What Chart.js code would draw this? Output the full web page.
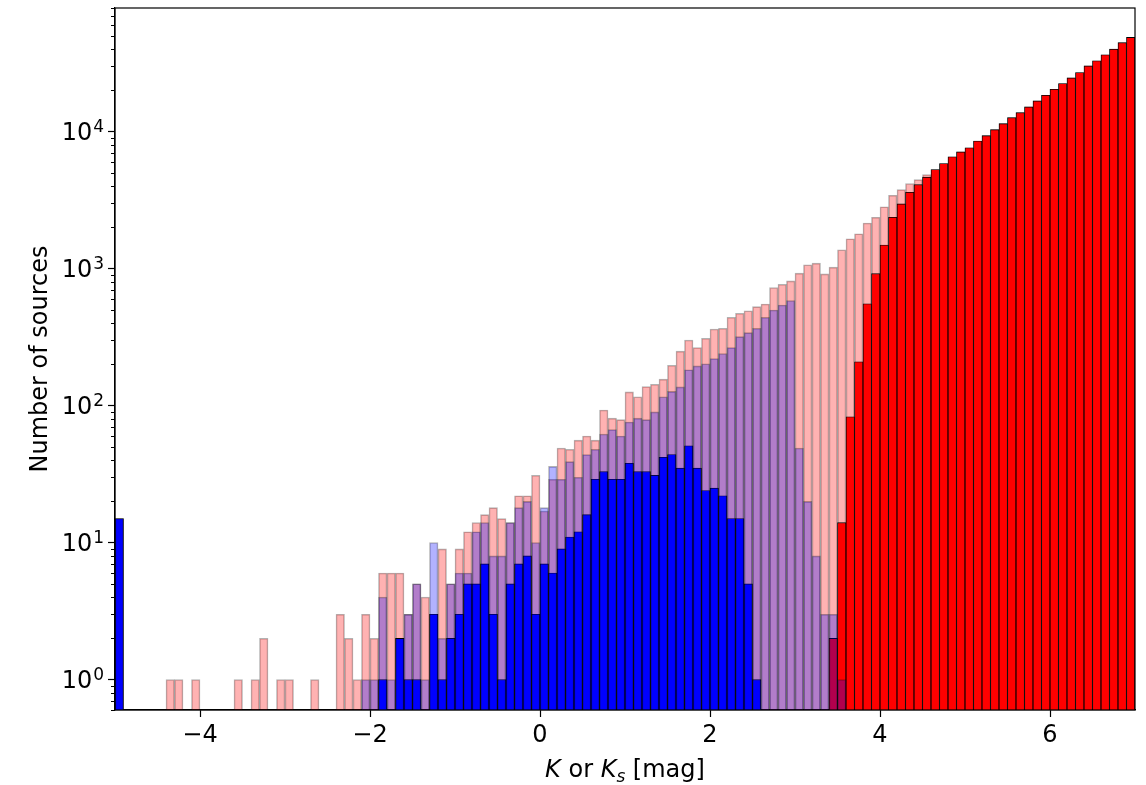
<!DOCTYPE html>
<html>
<head>
<meta charset="utf-8">
<script src="https://cdn.jsdelivr.net/npm/chart.js@4.4.1/dist/chart.umd.min.js"></script>
<style>
  body { margin: 0; background: #fff; }
  #wrap { width: 1146px; height: 785px; position: relative; }
</style>
</head>
<body>
<div id="wrap"><canvas id="chart01"></canvas></div>
<script>
// histogram bins: 0.1 mag wide, from -5 to 7 (120 bins)
const binStart = -5;
const binWidth = 0.1;
const binCount = 120;

const xTicks = [-4, -2, 0, 2, 4, 6];
const yTicks = [1, 10, 100, 1000, 10000];

// light red (all sources)
const allCounts = [
    0, 0, 0, 0, 0, 0, 1, 1, 0, 1,
    0, 0, 0, 0, 1, 0, 1, 2, 0, 1,
    1, 0, 0, 1, 0, 0, 3, 2, 1, 3,
    2, 6, 6, 6, 3, 5, 4, 3, 9, 5,
    9, 12, 14, 16, 18, 15, 14, 22, 22, 31,
    17, 29, 49, 48, 56, 60, 56, 93, 81, 79,
    126, 116, 138, 143, 156, 197, 250, 301, 266, 310,
    362, 367, 441, 472, 492, 528, 552, 728, 769, 814,
    927, 1067, 1097, 916, 1026, 1373, 1653, 1800, 2154, 2372,
    2830, 3436, 3782, 4180, 4478, 4870, 5300, 5860, 6560, 7130,
    7640, 8550, 9350, 10350, 11450, 12670, 13780, 15170, 16790, 18460,
    20420, 22470, 24740, 27040, 30270, 32940, 36470, 40090, 44700, 48840
];

// light blue (translucent, drawn on top)
const lightBlueCounts = [
    15, 0, 0, 0, 0, 0, 0, 0, 0, 0,
    0, 0, 0, 0, 0, 0, 0, 0, 0, 0,
    0, 0, 0, 0, 0, 0, 0, 0, 0, 1,
    1, 4, 1, 2, 3, 5, 1, 10, 2, 5,
    6, 6, 12, 14, 8, 8, 14, 18, 20, 10,
    18, 36, 29, 39, 30, 44, 48, 62, 67, 60,
    76, 81, 79, 90, 116, 127, 137, 183, 195, 202,
    221, 240, 266, 319, 341, 367, 441, 499, 543, 585,
    49, 20, 8, 3, 3, 1, 0, 0, 0, 0,
    0, 0, 0, 0, 0, 0, 0, 0, 0, 0,
    0, 0, 0, 0, 0, 0, 0, 0, 0, 0,
    0, 0, 0, 0, 0, 0, 0, 0, 0, 0
];

// solid blue
const blueCounts = [
    15, 0, 0, 0, 0, 0, 0, 0, 0, 0,
    0, 0, 0, 0, 0, 0, 0, 0, 0, 0,
    0, 0, 0, 0, 0, 0, 0, 0, 0, 0,
    0, 1, 0, 2, 1, 1, 0, 3, 1, 2,
    3, 5, 5, 7, 3, 1, 5, 7, 8, 3,
    7, 6, 9, 11, 12, 16, 29, 33, 29, 29,
    38, 33, 33, 31, 42, 44, 35, 51, 35, 24,
    25, 22, 15, 15, 5, 1, 0, 0, 0, 0,
    0, 0, 0, 0, 0, 0, 0, 0, 0, 0,
    0, 0, 0, 0, 0, 0, 0, 0, 0, 0,
    0, 0, 0, 0, 0, 0, 0, 0, 0, 0,
    0, 0, 0, 0, 0, 0, 0, 0, 0, 0
];

// solid red
const redCounts = [
    0, 0, 0, 0, 0, 0, 0, 0, 0, 0,
    0, 0, 0, 0, 0, 0, 0, 0, 0, 0,
    0, 0, 0, 0, 0, 0, 0, 0, 0, 0,
    0, 0, 0, 0, 0, 0, 0, 0, 0, 0,
    0, 0, 0, 0, 0, 0, 0, 0, 0, 0,
    0, 0, 0, 0, 0, 0, 0, 0, 0, 0,
    0, 0, 0, 0, 0, 0, 0, 0, 0, 0,
    0, 0, 0, 0, 0, 0, 0, 0, 0, 0,
    0, 0, 0, 0, 2, 14, 83, 209, 555, 920,
    1490, 2372, 2970, 3615, 4110, 4660, 5300, 5860, 6560, 7130,
    7640, 8550, 9350, 10350, 11450, 12670, 13780, 15170, 16790, 18460,
    20420, 22470, 24740, 27040, 30270, 32940, 36470, 40090, 44700, 48840
];

const binCenters = Array.from({ length: binCount }, (_, i) => Math.round((binStart + binWidth * (i + 0.5)) * 100) / 100);

function toPoints(counts) {
    return binCenters.map((x, i) => ({ x: x, y: counts[i] > 0 ? counts[i] : null }));
}

const tickFont = { family: 'DejaVu Sans', size: 24 };

const framePlugin = {
    id: 'frame',
    afterDraw(chart) {
        const { ctx, chartArea: a, scales } = chart;
        const y = scales.y;
        ctx.save();
        ctx.strokeStyle = '#000';
        ctx.lineWidth = 1.2;
        ctx.strokeRect(a.left, a.top, a.right - a.left, a.bottom - a.top);

        // minor ticks of the log axis
        ctx.lineWidth = 1;
        for (let p = -1; p <= 4; p++) {
            for (let m = 2; m <= 9; m++) {
                const v = m * Math.pow(10, p);
                if (v < y.min || v > y.max) continue;
                const py = Math.round(y.getPixelForValue(v)) + 0.5;
                ctx.beginPath();
                ctx.moveTo(a.left - 4, py);
                ctx.lineTo(a.left, py);
                ctx.stroke();
            }
        }

        // y tick labels as 10 with raised exponent
        ctx.fillStyle = '#000';
        ctx.textAlign = 'left';
        ctx.textBaseline = 'alphabetic';
        yTicks.forEach(v => {
            const py = y.getPixelForValue(v);
            const exp = String(Math.round(Math.log10(v)));
            ctx.font = '17px "DejaVu Sans"';
            const we = ctx.measureText(exp).width;
            ctx.font = '24px "DejaVu Sans"';
            const wb = ctx.measureText('10').width;
            const x0 = a.left - 12 - we - wb;
            ctx.fillText('10', x0, py + 8.6);
            ctx.font = '17px "DejaVu Sans"';
            ctx.fillText(exp, x0 + wb + 1, py + 0.5);
        });

        // y title
        ctx.font = '24px "DejaVu Sans"';
        ctx.textAlign = 'center';
        ctx.textBaseline = 'middle';
        ctx.save();
        ctx.translate(41, (a.top + a.bottom) / 2);
        ctx.rotate(-Math.PI / 2);
        ctx.fillText('Number of sources', 0, 0);
        ctx.restore();

        // x title: K or K_s [mag]
        const parts = [
            { t: 'K', font: 'italic 24px "DejaVu Sans"', dy: 0 },
            { t: ' or ', font: '24px "DejaVu Sans"', dy: 0 },
            { t: 'K', font: 'italic 24px "DejaVu Sans"', dy: 0 },
            { t: 's', font: 'italic 17px "DejaVu Sans"', dy: 5 },
            { t: ' [mag]', font: '24px "DejaVu Sans"', dy: 0 }
        ];
        ctx.textAlign = 'left';
        ctx.textBaseline = 'alphabetic';
        let total = 0;
        parts.forEach(p => { ctx.font = p.font; p.w = ctx.measureText(p.t).width; total += p.w; });
        let px = (a.left + a.right) / 2 - total / 2;
        parts.forEach(p => {
            ctx.font = p.font;
            ctx.fillText(p.t, px, 777 + p.dy);
            px += p.w;
        });
        ctx.restore();
    }
};

const ctx01 = document.getElementById('chart01');
new Chart(ctx01, {
    type: 'bar',
    data: {
        datasets: [
            {
                label: 'light blue',
                data: toPoints(lightBlueCounts),
                backgroundColor: 'rgba(0,0,255,0.3)',
                borderColor: 'rgba(0,0,0,0.3)',
                borderWidth: 0.9,
                order: 0
            },
            {
                label: 'red',
                data: toPoints(redCounts),
                backgroundColor: '#ff0000',
                borderColor: '#000',
                borderWidth: 0.9,
                order: 1
            },
            {
                label: 'blue',
                data: toPoints(blueCounts),
                backgroundColor: '#0000ff',
                borderColor: '#000',
                borderWidth: 0.9,
                order: 2
            },
            {
                label: 'all',
                data: toPoints(allCounts),
                backgroundColor: 'rgba(255,0,0,0.3)',
                borderColor: 'rgba(0,0,0,0.3)',
                borderWidth: 0.9,
                order: 3
            }
        ]
    },
    options: {
        responsive: true,
        maintainAspectRatio: false,
        animation: false,
        layout: { padding: { top: 8, right: 11, left: 0, bottom: 0 } },
        plugins: { legend: { display: false }, tooltip: { enabled: false } },
        datasets: { bar: { grouped: false, barPercentage: 1, categoryPercentage: 1 } },
        scales: {
            x: {
                type: 'linear',
                min: -5,
                max: 7,
                offset: false,
                afterBuildTicks: s => { s.ticks = xTicks.map(v => ({ value: v })); },
                afterFit: s => { s.height = 75; s.paddingLeft = 0; s.paddingRight = 0; },
                grid: { offset: false, drawOnChartArea: false, tickLength: 7, tickColor: '#000', tickWidth: 1.2 },
                border: { display: true, color: '#000', width: 1.2 },
                ticks: {
                    autoSkip: false,
                    maxRotation: 0,
                    padding: 4,
                    color: '#000',
                    font: tickFont,
                    callback: v => v < 0 ? '\u2212' + Math.abs(v) : String(v)
                }
            },
            y: {
                type: 'logarithmic',
                min: 0.6,
                max: 80000,
                afterBuildTicks: s => { s.ticks = yTicks.map(v => ({ value: v })); },
                afterFit: s => { s.width = 115; s.paddingTop = 0; s.paddingBottom = 0; },
                grid: { drawOnChartArea: false, tickLength: 7, tickColor: '#000', tickWidth: 1.2 },
                border: { display: true, color: '#000', width: 1.2 },
                ticks: { display: false }
            }
        }
    },
    plugins: [framePlugin]
});
</script>
</body>
</html>
